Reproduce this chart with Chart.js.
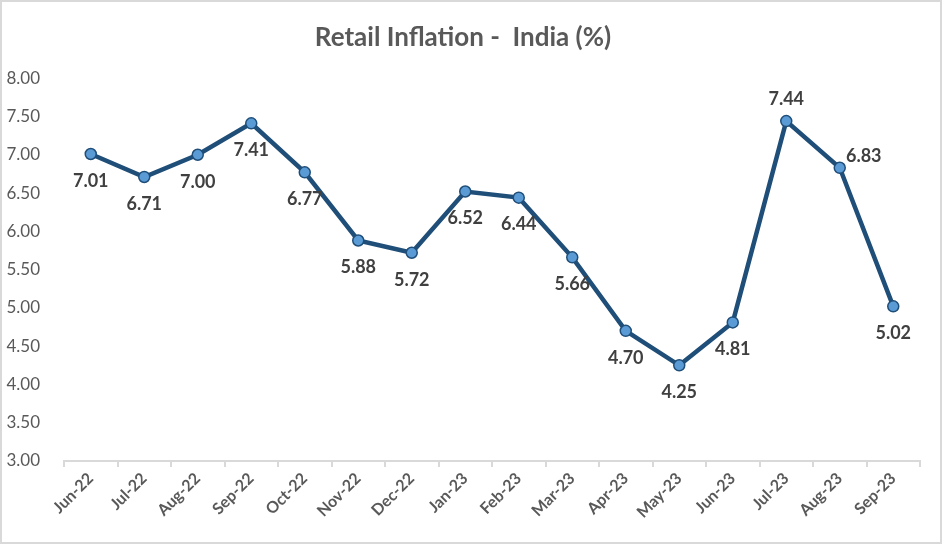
<!DOCTYPE html>
<html>
<head>
<meta charset="utf-8">
<script src="https://cdn.jsdelivr.net/npm/chart.js@4.4.0/dist/chart.umd.min.js"></script>
<style>
  html, body { margin: 0; padding: 0; background: #fff; }
  #wrap {
    width: 942px; height: 544px; box-sizing: border-box;
    border: 2px solid #d9d9d9; background: #fff;
  }
</style>
</head>
<body>
<div id="wrap"><canvas id="inflationChart"></canvas></div>
<script>
// Datos del gráfico
const months = ['Jun-22', 'Jul-22', 'Aug-22', 'Sep-22', 'Oct-22', 'Nov-22', 'Dec-22', 'Jan-23',
  'Feb-23', 'Mar-23', 'Apr-23', 'May-23', 'Jun-23', 'Jul-23', 'Aug-23', 'Sep-23'];
const inflation = [7.01, 6.71, 7.00, 7.41, 6.77, 5.88, 5.72, 6.52, 6.44, 5.66, 4.70, 4.25, 4.81, 7.44, 6.83, 5.02];
const yTicks = [3, 3.5, 4, 4.5, 5, 5.5, 6, 6.5, 7, 7.5, 8];

// Dónde va cada etiqueta respecto al punto
const labelSide = ['below', 'below', 'below', 'below', 'below', 'below', 'below', 'below',
  'below', 'below', 'below', 'below', 'below', 'above', 'upright', 'below'];

// Etiquetas de datos dibujadas a mano (no hay plugin datalabels)
const pointLabels = {
  id: 'pointLabels',
  afterDatasetsDraw(chart) {
    const { ctx } = chart;
    const meta = chart.getDatasetMeta(0);
    ctx.save();
    ctx.font = 'bold 18px Lato';
    ctx.fillStyle = '#404040';
    ctx.textAlign = 'center';
    ctx.textBaseline = 'middle';
    meta.data.forEach((pt, i) => {
      let dx = 0, dy = 27;
      if (labelSide[i] === 'above') { dy = -22; }
      if (labelSide[i] === 'upright') { dx = 24; dy = -12; }
      ctx.fillText(inflation[i].toFixed(2), pt.x + dx, pt.y + dy);
    });
    ctx.restore();
  }
};

const ctx = document.getElementById('inflationChart');
new Chart(ctx, {
  type: 'line',
  data: {
    labels: months,
    datasets: [{
      data: inflation,
      borderColor: '#1F4E79',
      borderWidth: 4.5,
      pointRadius: 5.5,
      pointBackgroundColor: '#5B9BD5',
      pointBorderColor: '#1F4E79',
      pointBorderWidth: 1.5,
      tension: 0
    }]
  },
  options: {
    responsive: true,
    maintainAspectRatio: false,
    animation: false,
    layout: { padding: { top: 6, left: 4, right: 20, bottom: 18 } },
    plugins: {
      legend: { display: false },
      tooltip: { enabled: false },
      title: {
        display: true,
        text: 'Retail Inflation -  India (%)',
        color: '#595959',
        font: { family: 'Lato', size: 26, weight: 'bold' },
        padding: { top: 14, bottom: 25 }
      }
    },
    scales: {
      y: {
        min: 3,
        max: 8,
        afterBuildTicks: axis => { axis.ticks = yTicks.map(v => ({ value: v })); },
        afterFit: axis => { axis.width = 58; },
        grid: { display: false },
        border: { display: false },
        ticks: {
          color: '#595959',
          font: { family: 'Lato', size: 17 },
          padding: 16,
          callback: v => Number(v).toFixed(2)
        }
      },
      x: {
        offset: true,
        grid: {
          offset: true,
          drawOnChartArea: false,
          color: '#d9d9d9',
          lineWidth: 2,
          tickLength: 6
        },
        border: { color: '#d9d9d9', width: 2 },
        ticks: {
          color: '#595959',
          font: { family: 'Lato', size: 16, weight: 'bold' },
          maxRotation: 45,
          minRotation: 45,
          padding: 2
        }
      }
    }
  },
  plugins: [pointLabels]
});
</script>
</body>
</html>
